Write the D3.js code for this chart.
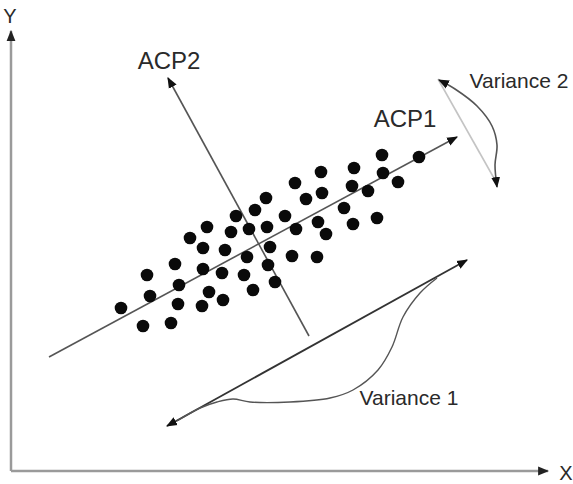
<!DOCTYPE html>
<html>
<head>
<meta charset="utf-8">
<script src="https://cdn.jsdelivr.net/npm/d3@7"></script>
<style>
  html, body { margin: 0; padding: 0; background: #fff; }
  svg { display: block; }
  text { font-family: "Liberation Sans", Arial, sans-serif; fill: #2a2a2a; }
</style>
</head>
<body>
<svg id="chart" width="573" height="484"></svg>
<script>
// Observations in the (X, Y) plane
const pointsX = [110,132,136,139,160,164,168,167,191,179,196,192,192,198,212,211,214,220,225,238,244,236,233,242,
                 371,408,343,310,372,387,284,341,357,311,255,295,333,366,274,342,256,307,285,315,259,281,306,257,264];
const pointsY = [163,145,196,175,148,207,186,167,165,233,244,223,202,179,171,198,221,239,255,242,261,214,196,181,
                 316,314,303,299,298,289,288,285,280,278,273,272,263,253,255,247,244,249,242,237,224,215,214,206,189];

// Principal axes (start, end) – arrow at the end
const acp1 = [[38,114],[446,334]];
const acp2 = [[298,135],[157,393]];

// Variance 1: double arrow along ACP1 plus its bracket curve
const var1Arrow = [[156,45],[456,211]];
const var1Curve = [[426,193],[409,178],[392,154],[381,124],[367,101],[342,81],[319,73],[279,69],[239,69],[222,72],[206,69],[189,63],[166,50]];

// Variance 2: short spread across ACP1 plus its arc
const var2Line = [[427,392],[484,291]];
const var2Arc = [[428,391],[444,382],[466,365],[481,345],[486,326],[484,306],[486,284]];

// Axis frame
const axisX = [[0,0],[537,0]];
const axisY = [[0,0],[0,440]];

const labels = [
  {text:"ACP2", at:[158,402], size:24},
  {text:"ACP1", at:[394,344], size:24},
  {text:"Variance 2", at:[508,383], size:21},
  {text:"Variance 1", at:[398,66], size:21},
  {text:"Y", at:[-1,448], size:20},
  {text:"X", at:[555,-9], size:20}
];

const svg = d3.select("#chart");
const x = d3.scaleLinear().domain([0, 537]).range([11, 548]);
const y = d3.scaleLinear().domain([0, 440]).range([471, 31]);

const defs = svg.append("defs");
function marker(id, color) {
  defs.append("marker")
    .attr("id", id)
    .attr("viewBox", "0 0 10 10")
    .attr("refX", 9).attr("refY", 5)
    .attr("markerWidth", 11).attr("markerHeight", 11)
    .attr("markerUnits", "userSpaceOnUse")
    .attr("orient", "auto-start-reverse")
    .append("path")
    .attr("d", "M0,1 L10,5 L0,9 Z")
    .attr("fill", color);
}
marker("arrowDark", "#111");
marker("arrowAxis", "#222");

const line = d3.line().x(d => x(d[0])).y(d => y(d[1]));
const curve = d3.line().x(d => x(d[0])).y(d => y(d[1])).curve(d3.curveCatmullRom.alpha(0.5));

// Axes
svg.append("path").attr("d", line(axisY)).attr("stroke", "#9a9a9a").attr("stroke-width", 2.5)
  .attr("fill", "none").attr("marker-end", "url(#arrowAxis)");
svg.append("path").attr("d", line(axisX)).attr("stroke", "#9a9a9a").attr("stroke-width", 2.5)
  .attr("fill", "none").attr("marker-end", "url(#arrowAxis)");

// Principal component axes
svg.append("path").attr("d", line(acp1)).attr("stroke", "#555").attr("stroke-width", 1.6)
  .attr("fill", "none").attr("marker-end", "url(#arrowDark)");
svg.append("path").attr("d", line(acp2)).attr("stroke", "#555").attr("stroke-width", 1.6)
  .attr("fill", "none").attr("marker-end", "url(#arrowDark)");

// Variance 1
svg.append("path").attr("d", line(var1Arrow)).attr("stroke", "#333").attr("stroke-width", 1.8)
  .attr("fill", "none").attr("marker-start", "url(#arrowDark)").attr("marker-end", "url(#arrowDark)");
svg.append("path").attr("d", curve(var1Curve)).attr("stroke", "#555").attr("stroke-width", 1.4)
  .attr("fill", "none");

// Variance 2
svg.append("path").attr("d", line(var2Line)).attr("stroke", "#c4c4c4").attr("stroke-width", 1.6)
  .attr("fill", "none");
svg.append("path").attr("d", curve(var2Arc)).attr("stroke", "#555").attr("stroke-width", 1.6)
  .attr("fill", "none").attr("marker-start", "url(#arrowDark)").attr("marker-end", "url(#arrowDark)");

// Observations
svg.append("g").selectAll("circle")
  .data(d3.range(pointsX.length))
  .join("circle")
  .attr("cx", i => x(pointsX[i]))
  .attr("cy", i => y(pointsY[i]))
  .attr("r", 6.3)
  .attr("fill", "#0a0a0a");

// Labels
svg.append("g").selectAll("text")
  .data(labels)
  .join("text")
  .attr("x", d => x(d.at[0]))
  .attr("y", d => y(d.at[1]))
  .attr("text-anchor", "middle")
  .attr("font-size", d => d.size)
  .text(d => d.text);
</script>
</body>
</html>
